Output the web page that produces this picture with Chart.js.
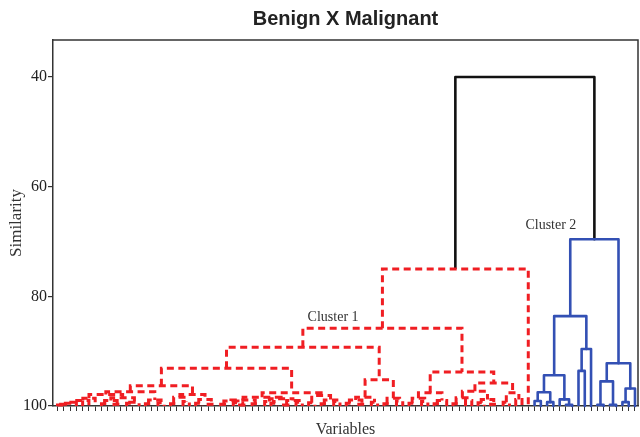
<!DOCTYPE html>
<html>
<head>
<meta charset="utf-8">
<script src="https://cdn.jsdelivr.net/npm/chart.js@4.4.1/dist/chart.umd.min.js"></script>
<style>
  html, body { margin: 0; padding: 0; background: #fff; }
</style>
</head>
<body>
<canvas id="dendro" width="640" height="437"></canvas>
<script>
// Variables are listed left to right. Each gap value is the similarity (%)
// at which a variable is joined to its right-hand neighbour in the tree.
const cluster1Gaps = [
  99.8, 99.7, 99.5, 99.3, 99.0, 98.6, 97.9, 99.6, 99.0, 99.7,
  98.5, 99.5, 99.3, 97.4, 99.6, 98.9, 99.4, 96.3, 99.6, 98.4,
  99.2, 97.9, 99.5, 98.8, 99.7, 93.1, 99.7, 99.1, 99.4, 99.8,
  98.9, 99.6, 98.4, 99.2, 99.5, 98.7, 99.8, 99.0, 99.3, 97.6,
  99.4, 98.1, 99.6, 98.9, 99.2, 89.3, 99.5, 98.9, 99.7, 98.4,
  99.3, 95.2, 99.6, 98.6, 99.1, 85.8, 99.5, 98.6, 99.2, 97.6,
  99.6, 99.0, 93.8, 99.6, 98.5, 99.0, 97.3, 99.4, 98.8, 99.7,
  95.8, 99.3, 97.6, 98.8, 75.0
];
// similarity at which the two clusters meet
const clusterJoin = 40.0;
const cluster2Gaps = [
  99.1, 97.5, 99.3, 94.4, 98.8, 99.8, 83.6, 93.6, 89.6, 69.6,
  99.8, 95.5, 99.8, 92.2, 99.3, 96.8
];
const yTickValues = [40, 60, 80, 100];
const clusterNames = ['Cluster 1', 'Cluster 2'];
const clusterLabelX = [43.9, 78.6];
const clusterLabelY = [83.8, 67.0];

const gaps = cluster1Gaps.concat([clusterJoin], cluster2Gaps);
const leafCount = gaps.length + 1;
const cluster1Size = cluster1Gaps.length + 1;

const RED = '#f01e23';
const BLUE = '#3350b4';
const BLACK = '#111111';

// Rebuild the tree: every range of leaves splits at its weakest link.
const brackets = [];
function build(lo, hi) {
  if (lo === hi) return { x: lo, h: 100, lo, hi };
  let split = lo;
  for (let k = lo; k < hi; k++) if (gaps[k] < gaps[split]) split = k;
  const left = build(lo, split);
  const right = build(split + 1, hi);
  const node = { x: (left.x + right.x) / 2, h: gaps[split], lo, hi, left, right };
  brackets.push(node);
  return node;
}
build(0, leafCount - 1);

const datasets = brackets.map(n => {
  let color = BLACK, dash = [], width = 2.6;
  if (n.hi < cluster1Size) { color = RED; dash = [7, 4.5]; width = 3; }
  else if (n.lo >= cluster1Size) { color = BLUE; width = 2.6; }
  return {
    data: [
      { x: n.left.x, y: n.left.h },
      { x: n.left.x, y: n.h },
      { x: n.right.x, y: n.h },
      { x: n.right.x, y: n.right.h }
    ],
    borderColor: color,
    borderWidth: width,
    borderDash: dash,
    borderJoinStyle: color === RED ? 'miter' : 'round',
    pointRadius: 0,
    tension: 0,
    fill: false,
    clip: false
  };
});

// frame along the top and right of the plotting area
const framePlugin = {
  id: 'frame',
  beforeDatasetsDraw(chart) {
    const { ctx, chartArea: a } = chart;
    ctx.save();
    ctx.strokeStyle = '#333';
    ctx.lineWidth = 1.5;
    ctx.beginPath();
    ctx.moveTo(a.left, a.top);
    ctx.lineTo(a.right, a.top);
    ctx.lineTo(a.right, a.bottom);
    ctx.stroke();
    ctx.restore();
  }
};

const serif = '"Liberation Serif", "Times New Roman", serif';

const clusterLabelPlugin = {
  id: 'clusterLabels',
  afterDatasetsDraw(chart) {
    const { ctx, scales } = chart;
    ctx.save();
    ctx.font = '14px ' + serif;
    ctx.fillStyle = '#333';
    ctx.textAlign = 'center';
    ctx.textBaseline = 'middle';
    clusterNames.forEach((name, i) => {
      ctx.fillText(name, scales.x.getPixelForValue(clusterLabelX[i]),
        scales.y.getPixelForValue(clusterLabelY[i]));
    });
    ctx.restore();
  }
};

new Chart(document.getElementById('dendro'), {
  type: 'line',
  data: { datasets },
  options: {
    responsive: false,
    animation: false,
    devicePixelRatio: 1,
    layout: { padding: { left: 0, right: 2, top: 0, bottom: 0 } },
    plugins: {
      legend: { display: false },
      tooltip: { enabled: false },
      title: {
        display: true,
        fullSize: false,
        text: 'Benign X Malignant',
        color: '#222',
        font: { family: '"Liberation Sans", Arial, sans-serif', size: 20, weight: 'bold' },
        padding: { top: 7, bottom: 9 }
      }
    },
    scales: {
      x: {
        type: 'linear',
        min: -0.72,
        max: leafCount - 1 + 0.48,
        afterBuildTicks(scale) {
          scale.ticks = Array.from({ length: leafCount }, (_, i) => ({ value: i }));
        },
        afterFit(scale) { scale.height = 31; },
        ticks: { display: false },
        grid: { drawOnChartArea: false, drawTicks: true, tickLength: 5, color: '#333', lineWidth: 1 },
        border: { color: '#333', width: 1.5 },
        title: {
          display: true, text: 'Variables', color: '#333',
          font: { family: serif, size: 16 }, padding: { top: 0, bottom: -2 }
        }
      },
      y: {
        type: 'linear',
        reverse: true,
        min: 33.25,
        max: 100,
        afterBuildTicks(scale) {
          scale.ticks = yTickValues.map(v => ({ value: v }));
        },
        afterFit(scale) { scale.width = 53; },
        ticks: { color: '#222', font: { family: serif, size: 16 }, padding: 1 },
        grid: { drawOnChartArea: false, drawTicks: true, tickLength: 5, color: '#333', lineWidth: 1.2 },
        border: { color: '#333', width: 1.5 },
        title: {
          display: true, text: 'Similarity', color: '#333',
          font: { family: serif, size: 17 }, padding: { top: 6.8, bottom: 0 }
        }
      }
    }
  },
  plugins: [framePlugin, clusterLabelPlugin]
});
</script>
</body>
</html>
